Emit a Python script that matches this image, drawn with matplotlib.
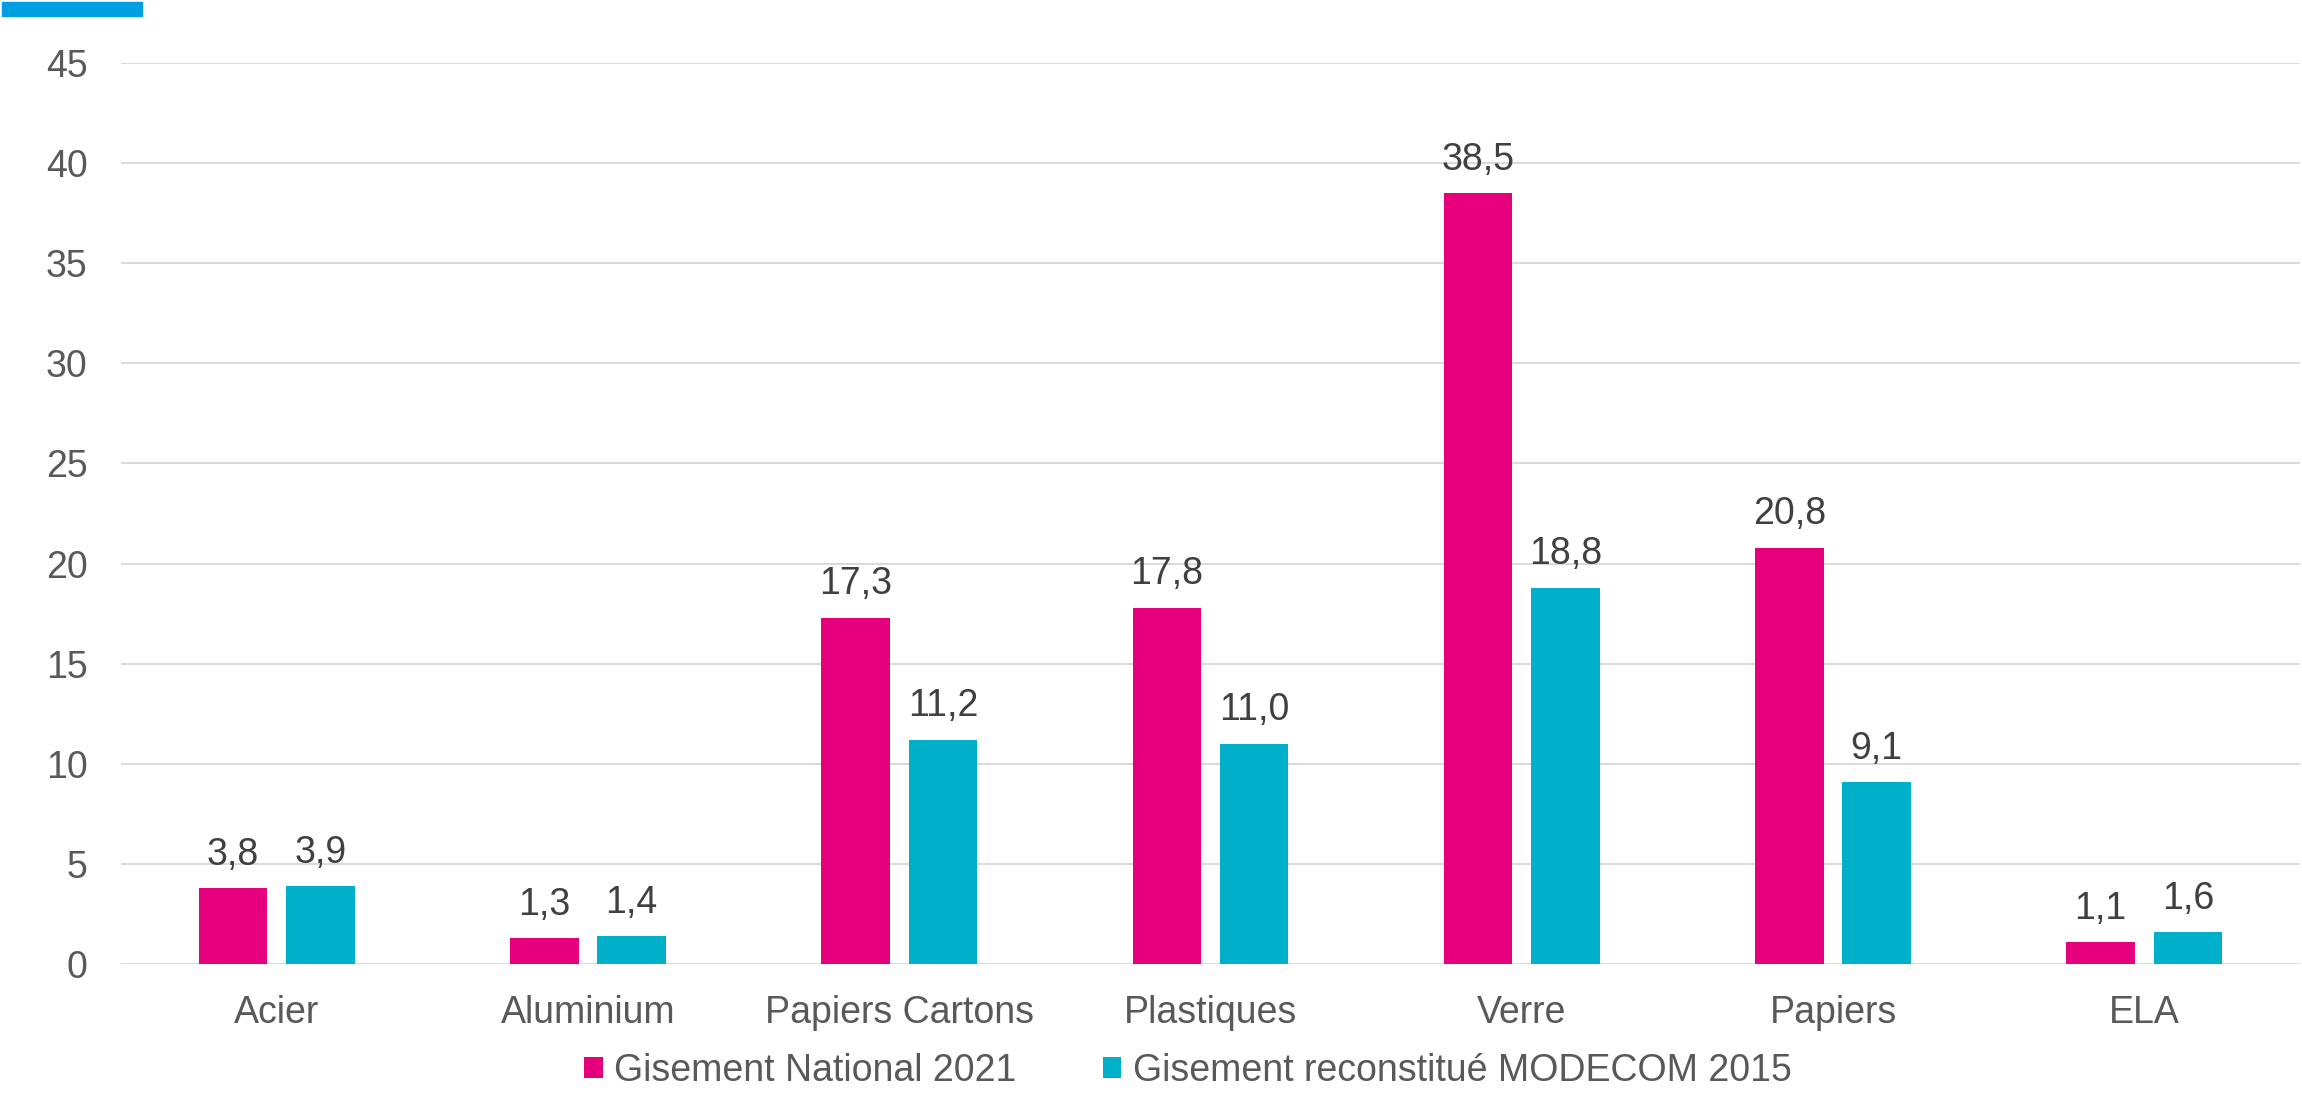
import matplotlib.pyplot as plt
import numpy as np
from matplotlib.patches import Rectangle

plt.rcParams['font.family'] = ['Liberation Sans', 'DejaVu Sans']

categories = ["Acier", "Aluminium", "Papiers Cartons", "Plastiques", "Verre", "Papiers", "ELA"]
national_2021 = [3.8, 1.3, 17.3, 17.8, 38.5, 20.8, 1.1]
modecom_2015 = [3.9, 1.4, 11.2, 11.0, 18.8, 9.1, 1.6]
series_names = ["Gisement National 2021", "Gisement reconstitué MODECOM 2015"]

pink = "#E6007E"
cyan = "#00B0CA"
text_grey = "#595959"
label_grey = "#404040"
fs = 27

fig = plt.figure(figsize=(23.02, 10.95), dpi=100)
ax = fig.add_axes([0.0526, 0.1196, 0.9465, 0.8229])

x = np.arange(len(categories))
w = 0.22
off = 0.14
b1 = ax.bar(x - off, national_2021, w, color=pink, label=series_names[0], zorder=3)
b2 = ax.bar(x + off, modecom_2015, w, color=cyan, label=series_names[1], zorder=3)

for bars, vals in ((b1, national_2021), (b2, modecom_2015)):
    labels = [f"{v:.1f}".replace(".", ",") for v in vals]
    ax.bar_label(bars, labels=labels, padding=11, fontsize=fs, color=label_grey)

ax.set_xlim(-0.5, len(categories) - 0.5)
ax.set_ylim(0, 45)
ax.set_yticks(range(0, 50, 5))
ax.set_xticks(x)
ax.set_xticklabels(categories)
ax.tick_params(axis='both', length=0, labelsize=fs, labelcolor=text_grey)
ax.tick_params(axis='y', pad=24)
ax.tick_params(axis='x', pad=22)
ax.grid(axis='y', color="#D9D9D9", linewidth=1.4, zorder=0)
for s in ax.spines.values():
    s.set_visible(False)

fig.legend(loc='center', bbox_to_anchor=(0.516, 0.022), ncol=2, frameon=False,
           fontsize=fs, labelcolor=text_grey, handlelength=0.5, handleheight=0.5,
           handletextpad=0.3, columnspacing=2.3)

# blue accent strip at the top left
fig.add_artist(Rectangle((2 / 2302, 1 - 16 / 1095), 140 / 2302, 14 / 1095,
                         transform=fig.transFigure, color="#009FE3"))

fig.savefig("out.png", dpi=100)
